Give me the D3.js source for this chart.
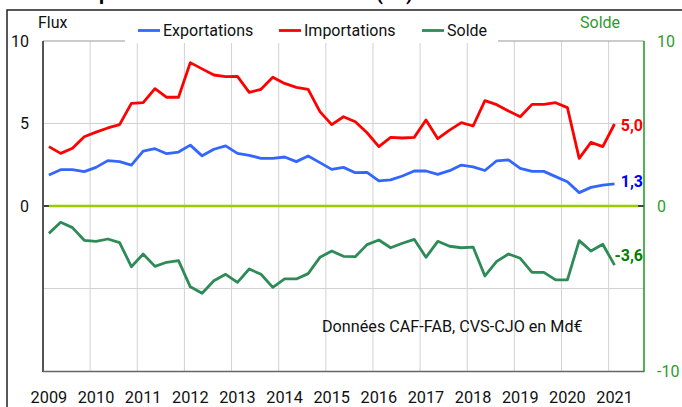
<!DOCTYPE html>
<html><head><meta charset="utf-8">
<script src="https://cdn.jsdelivr.net/npm/d3@7"></script>
<style>
html,body{margin:0;padding:0;background:#fff;}
svg{display:block;font-family:Roboto,"Noto Sans",sans-serif;}
</style></head><body>
<svg id="c" width="682" height="407"></svg>
<script>
const years = [2009,2010,2011,2012,2013,2014,2015,2016,2017,2018,2019,2020,2021];
const quarters = ["T1","T2","T3","T4"];
const exportations = [1.88,2.2,2.2,2.08,2.34,2.75,2.69,2.48,3.33,3.47,3.17,3.27,3.69,3.04,3.44,3.64,3.19,3.07,2.89,2.89,2.97,2.69,3.03,2.63,2.22,2.34,2.02,2.04,1.52,1.58,1.82,2.12,2.12,1.92,2.14,2.48,2.37,2.15,2.74,2.79,2.28,2.1,2.1,1.78,1.47,0.81,1.13,1.27,1.34];
const importations = [3.6,3.19,3.5,4.2,4.48,4.73,4.93,6.22,6.26,7.11,6.59,6.59,8.69,8.31,7.94,7.84,7.86,6.89,7.07,7.8,7.43,7.19,7.07,5.72,4.93,5.41,5.11,4.44,3.6,4.16,4.12,4.16,5.21,4.08,4.6,5.05,4.85,6.39,6.14,5.76,5.41,6.16,6.16,6.26,5.96,2.89,3.86,3.6,4.97];
const solde = [-1.66,-0.99,-1.31,-2.08,-2.14,-2.0,-2.22,-3.68,-2.91,-3.66,-3.41,-3.31,-4.9,-5.29,-4.53,-4.14,-4.63,-3.82,-4.14,-4.93,-4.42,-4.42,-4.1,-3.11,-2.73,-3.05,-3.07,-2.34,-2.06,-2.53,-2.26,-2.02,-3.11,-2.14,-2.44,-2.53,-2.49,-4.24,-3.36,-2.91,-3.17,-4.02,-4.02,-4.48,-4.48,-2.1,-2.73,-2.32,-3.58];
const leftTicks = [0,5,10];
const rightTicks = [-10,0,10];
const endLabels = ["5,0","1,3","-3,6"];

// all category slots (data stops at 2021T1, axis continues to 2021T3)
const slots = [];
years.forEach(y => quarters.forEach(q => slots.push(y + q)));
const cats = slots.slice(0, 51);

const svg = d3.select("#c");
const L = 43, R = 644, T = 41, B = 371;
const x = d3.scaleBand().domain(cats).range([L, R]).padding(0);
const bw = x.bandwidth();
const xc = i => x(cats[i]) + bw / 2;
const yL = d3.scaleLinear().domain([-10, 10]).range([B, T]);
const yR = d3.scaleLinear().domain([-10, 10]).range([B, T]);

// outer frame
svg.append("rect").attr("x", 7).attr("y", 10).attr("width", 700).attr("height", 420)
  .attr("fill", "none").attr("stroke", "#222").attr("stroke-width", 1.5);

// title (cut off at the top edge in the reference: only descenders show)
svg.append("g").attr("font-size", 20).attr("font-weight", "bold").attr("fill", "#000")
  .selectAll("text").data([["p", 99], ["(", 376], [")", 406]]).join("text")
  .attr("x", d => d[1]).attr("y", 0).text(d => d[0]);

// grid
const g = svg.append("g");
g.selectAll(".vg").data(years.slice(1)).join("line")
  .attr("x1", d => x(d + "T1")).attr("x2", d => x(d + "T1"))
  .attr("y1", T).attr("y2", B).attr("stroke", "#d2d2d2").attr("stroke-width", 1);
g.selectAll(".hg").data([5, -5]).join("line")
  .attr("x1", L).attr("x2", R).attr("y1", d => yL(d)).attr("y2", d => yL(d))
  .attr("stroke", "#d2d2d2").attr("stroke-width", 1);
g.append("line").attr("x1", L).attr("x2", R).attr("y1", T).attr("y2", T).attr("stroke", "#999").attr("stroke-width", 1);

// zero axis + zero line
g.append("line").attr("x1", L).attr("x2", R).attr("y1", yL(0)).attr("y2", yL(0)).attr("stroke", "#000").attr("stroke-width", 1.5);
g.append("line").attr("x1", xc(0)).attr("x2", xc(50)).attr("y1", yL(0)).attr("y2", yL(0)).attr("stroke", "#99cc00").attr("stroke-width", 2.5);

// axes lines
g.append("line").attr("x1", L).attr("x2", L).attr("y1", T).attr("y2", B + 1).attr("stroke", "#555").attr("stroke-width", 2);
g.append("line").attr("x1", L).attr("x2", R).attr("y1", B + 0.5).attr("y2", B + 0.5).attr("stroke", "#666").attr("stroke-width", 1.5);
g.append("line").attr("x1", R).attr("x2", R).attr("y1", T).attr("y2", B + 1).attr("stroke", "#1a9a1a").attr("stroke-width", 1.5);

// left tick labels
svg.append("g").attr("font-size", 16).attr("fill", "#111").attr("text-anchor", "end")
  .selectAll("text").data(leftTicks).join("text")
  .attr("x", 29).attr("y", d => yL(d)).attr("dy", "0.36em").text(d => d);
// right tick labels
svg.append("g").attr("font-size", 16).attr("fill", "#2e9a2e").attr("text-anchor", "start")
  .selectAll("text").data(rightTicks).join("text")
  .attr("x", 657).attr("y", d => yR(d)).attr("dy", "0.36em").text(d => d);
// year labels
svg.append("g").attr("font-size", 16.3).attr("fill", "#111").attr("text-anchor", "middle")
  .selectAll("text").data(years).join("text")
  .attr("x", d => x(d + "T1") + bw / 2).attr("y", 403).text(d => d);

// series
const line = sc => d3.line().x((d, i) => xc(i)).y(d => sc(d));
const series = [
  {v: exportations, c: "#3366ff", s: yL},
  {v: importations, c: "#ff0000", s: yL},
  {v: solde, c: "#2e8b57", s: yR}
];
series.forEach(s => svg.append("path").datum(s.v).attr("d", line(s.s)).attr("fill", "none")
  .attr("stroke", s.c).attr("stroke-width", 2.8).attr("stroke-linejoin", "round"));

// end labels
const lbls = [
  {t: endLabels[0], v: importations[48], s: yL, c: "#ff0000", off: 1.5},
  {t: endLabels[1], v: exportations[48], s: yL, c: "#0000ff", off: -3},
  {t: endLabels[2], v: solde[48], s: yR, c: "#008000", off: -9.5}
];
svg.append("g").attr("font-size", 16).attr("font-weight", "bold").attr("text-anchor", "end")
  .selectAll("text").data(lbls).join("text")
  .attr("x", 643).attr("y", d => d.s(d.v) + d.off).attr("dy", "0.36em")
  .attr("fill", d => d.c).text(d => d.t);

// axis titles
svg.append("text").attr("x", 38).attr("y", 28).attr("font-size", 16).attr("fill", "#111").text("Flux");
svg.append("text").attr("x", 580).attr("y", 28).attr("font-size", 16).attr("fill", "#2e9a2e").text("Solde");

// legend
const lg = svg.append("g");
lg.append("rect").attr("x", 125).attr("y", 16).attr("width", 373).attr("height", 27).attr("fill", "#fff");
const items = [
  {t: "Exportations", c: "#3366ff", x: 138},
  {t: "Importations", c: "#ff0000", x: 279},
  {t: "Solde", c: "#2e8b57", x: 422}
];
items.forEach(it => {
  lg.append("line").attr("x1", it.x).attr("x2", it.x + 22).attr("y1", 30.5).attr("y2", 30.5)
    .attr("stroke", it.c).attr("stroke-width", 2.8);
  lg.append("text").attr("x", it.x + 25).attr("y", 36).attr("font-size", 16).attr("fill", "#111").text(it.t);
});

// note
svg.append("text").attr("x", 322).attr("y", 331.5).attr("font-size", 16.2).attr("fill", "#111")
  .text("Données CAF-FAB, CVS-CJO en Md€");
</script>
</body></html>
